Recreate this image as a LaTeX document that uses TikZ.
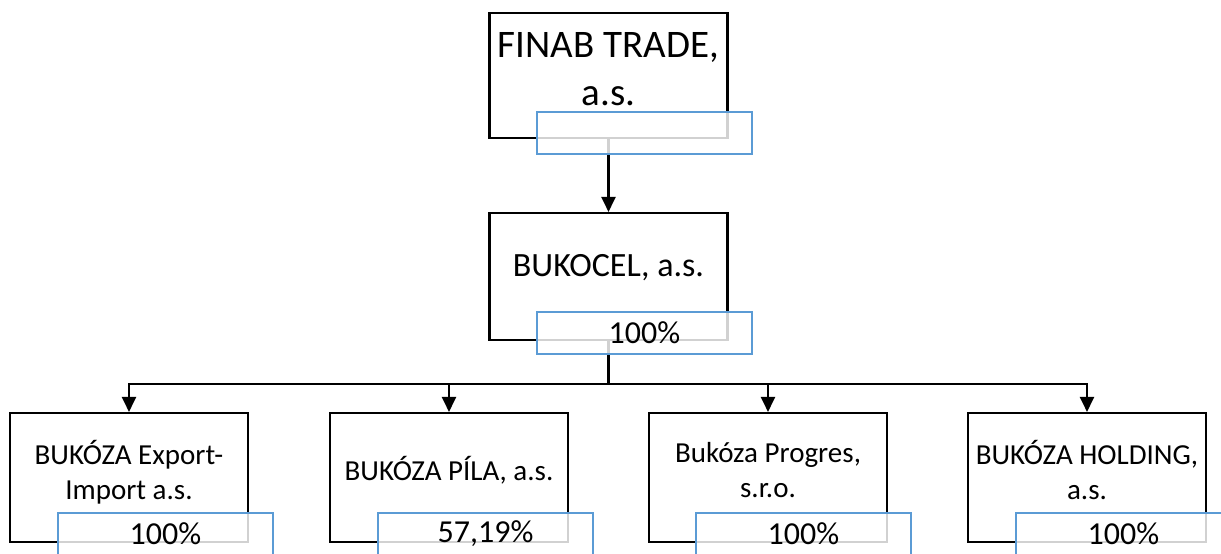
\documentclass[tikz,border=0pt]{standalone}
\usepackage{fontspec}
\setmainfont{Carlito}
\usetikzlibrary{arrows.meta}
\definecolor{pctblue}{HTML}{5B9BD5}
\tikzset{
  orgbox/.style={draw=black, fill=white, line width=2.1pt, minimum width=238pt, inner sep=0pt},
  pctbox/.style={draw=pctblue, fill=white, fill opacity=0.82, draw opacity=1, text opacity=1, line width=2pt, minimum width=215pt, minimum height=42pt, inner sep=0pt, font=\fontsize{32}{38}\selectfont},
  lbl/.style={align=center, inner sep=0pt},
  conn/.style={draw=black, line width=2.1pt},
  arr/.style={conn, -{Triangle[width=14pt,length=15pt]}},
}
\begin{document}
\begin{tikzpicture}[x=1pt,y=-1pt]
\useasboundingbox (0,0) rectangle (1221,554);
\clip (0,0) rectangle (1221,554);
% boxes
\node[orgbox, minimum height=125pt] (top) at (608.5,75.5) {};
\node[orgbox, minimum height=127pt] (mid) at (608.5,276.5) {};
\node[orgbox, minimum height=129pt] (b1) at (129,477.5) {};
\node[orgbox, minimum height=129pt] (b2) at (449,477.5) {};
\node[orgbox, minimum height=129pt] (b3) at (768,477.5) {};
\node[orgbox, minimum height=129pt] (b4) at (1087,477.5) {};
% labels
\node[lbl, font=\fontsize{39}{48}\selectfont] (ttop) at (608.5,69) {FINAB TRADE,\\a.s.};
\node[lbl, font=\fontsize{34}{41}\selectfont] (tmid) at (608.5,268) {BUKOCEL, a.s.};
\node[lbl, font=\fontsize{29}{35}\selectfont] (t1) at (129,472.5) {BUKÓZA Export-\\Import a.s.};
\node[lbl, font=\fontsize{29}{35}\selectfont] (t2) at (449,470) {BUKÓZA PÍLA, a.s.};
\node[lbl, font=\fontsize{29}{35}\selectfont] (t3) at (768,470.5) {Bukóza Progres,\\s.r.o.};
\node[lbl, font=\fontsize{29}{35}\selectfont] (t4) at (1087,470.5) {BUKÓZA HOLDING,\\a.s.};
% connectors
\coordinate (j) at (608.5,384);
\draw[arr] (top.south) -- (mid.north);
\draw[conn] (mid.south) -- (j);
\draw[arr] (j) -| (b1.north);
\draw[arr] (j) -| (b2.north);
\draw[arr] (j) -| (b3.north);
\draw[arr] (j) -| (b4.north);
% percentage boxes
\node[pctbox] (ptop) at (644.5,133) {};
\node[pctbox] (pmid) at (644.5,333) {100\%};
\node[pctbox] (p1) at (165.5,534) {100\%};
\node[pctbox] (p2) at (485.5,534) {57,19\%};
\node[pctbox] (p3) at (803.5,534) {100\%};
\node[pctbox] (p4) at (1123.5,534) {100\%};
\end{tikzpicture}
\end{document}
